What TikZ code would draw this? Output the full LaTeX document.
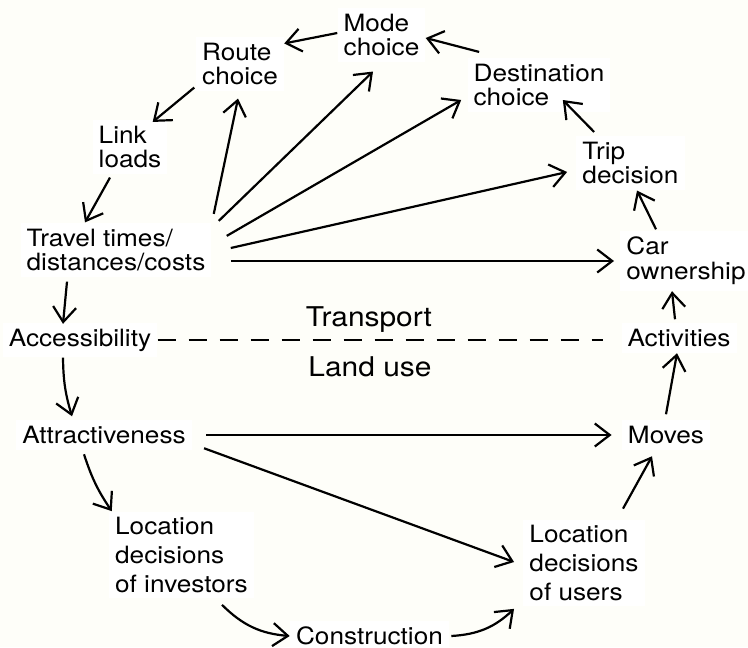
\documentclass[tikz,border=0pt]{standalone}
\usepackage{fontspec}
\setmainfont{TeX Gyre Heros}[FakeStretch=1.1]
\usetikzlibrary{arrows.meta}
\definecolor{paper}{RGB}{254,254,249}
\tikzset{
  box/.style={fill=white,inner sep=3pt,align=left,font=\fontsize{11.9pt}{12.3pt}\selectfont},
  tallbox/.style={box,font=\fontsize{11.9pt}{14.3pt}\selectfont},
  side/.style={anchor=base,inner sep=0pt,font=\fontsize{13.6pt}{15pt}\selectfont},
  arr/.style={line width=1.1pt,-{Straight Barb[length=7.5pt,width=11.5pt]}},
  split/.style={line width=1.1pt,dash pattern=on 9pt off 6.5pt}
}
\begin{document}
\begin{tikzpicture}[x=.5pt,y=-.5pt]
 \fill[paper] (0,0) rectangle (748,647);
 \useasboundingbox (0,0) rectangle (748,647);

 \node[box] (mode) at (381.5,35) {Mode\\choice};
 \node[box] (route) at (240,64) {Route\\choice};
 \node[box] (dest) at (539,85) {Destination\\choice};
 \node[box] (link) at (130,147) {Link\\loads};
 \node[box] (trip) at (630.5,163) {Trip\\decision};
 \node[box] (tt) at (116,250) {Travel times/\\distances/costs};
 \node[box] (car) at (686,261) {Car\\ownership};
 \node[box] (acc) at (80,340) {Accessibility};
 \node[box] (act) at (679,338) {Activities};
 \node[box] (attr) at (104,435) {Attractiveness};
 \node[box] (moves) at (666,435) {Moves};
 \node[tallbox] (inv) at (181.5,555) {Location\\decisions\\of investors};
 \node[tallbox] (users) at (584,563) {Location\\decisions\\of users};
 \node[box] (cons) at (369.5,636) {Construction};
 \node[side] (transport) at (369,326) {Transport};
 \node[side] (landuse) at (370,376) {Land use};

 % transport side
 \draw[arr] ([yshift=1pt]mode.west) -- ([yshift=-3.5pt]route.north east);
 \draw[arr] ([shift={(6pt,2.75pt)}]dest.north west) -- ([yshift=-1.5pt]mode.east);
 \draw[arr] ([shift={(9pt,1.75pt)}]trip.north west) -- ([shift={(-24pt,-7.5pt)}]dest.east);
 \draw[arr] ([shift={(18pt,0.75pt)}]car.north west) -- ([xshift=3.25pt]trip.south);
 \draw[arr] ([shift={(-2pt,1.75pt)}]act.north) -- ([xshift=-7pt]car.south);
 \draw[arr] ([shift={(-0.75pt,2pt)}]route.south west) -- ([shift={(-7.5pt,-1.25pt)}]link.north east);
 \draw[arr] ([shift={(-10pt,-1.5pt)}]link.south) -- ([xshift=-15.5pt]tt.north);
 \draw[arr] ([shift={(-24.5pt,-2pt)}]tt.south) -- ([shift={(-8.5pt,-0.75pt)}]acc.north);

 % travel times fan
 \draw[arr] ([shift={(1pt,4.25pt)}]tt.north east) -- ([shift={(-1pt,-3.5pt)}]route.south);
 \draw[arr] ([shift={(3.5pt,0.75pt)}]tt.north east) -- ([shift={(-4.25pt,-4.5pt)}]mode.south);
 \draw[arr] ([shift={(7.5pt,-6.75pt)}]tt.north east) -- ([shift={(-3pt,-7.5pt)}]dest.west);
 \draw[arr] ([shift={(9.5pt,1pt)}]tt.east) -- ([shift={(-4.5pt,-4.5pt)}]trip.west);
 \draw[arr] ([shift={(9.5pt,-5.5pt)}]tt.east) -- ([xshift=-3pt]car.west);

 % transport / land use
 \draw[split] (acc.east) -- ([xshift=-9pt]acc.east -| act.west);

 % land use side
 \draw[arr] ([xshift=-8.5pt]acc.south) to[bend right=8] ([shift={(-16pt,1.75pt)}]attr.north);
 \draw[arr] ([shift={(-10pt,-2pt)}]attr.south) to[bend right=8] ([xshift=1.5pt]inv.north west);
 \draw[arr] ([shift={(20.25pt,-3pt)}]inv.south) to[bend right=20] (cons.west);
 \draw[arr] ([xshift=1pt]cons.east) to[bend right=20] ([shift={(-4.5pt,-1pt)}]users.south west);
 \draw[arr] ([shift={(19.5pt,5.25pt)}]users.north) -- ([shift={(-7pt,-3pt)}]moves.south);
 \draw[arr] ([yshift=2.75pt]moves.north) -- ([xshift=-1pt]act.south);
 \draw[arr] ([xshift=7pt]attr.east) -- ([xshift=-5pt]moves.west);
 \draw[arr] ([shift={(6pt,1pt)}]attr.south east) -- ([shift={(-4.5pt,0.5pt)}]users.west);
\end{tikzpicture}
\end{document}
